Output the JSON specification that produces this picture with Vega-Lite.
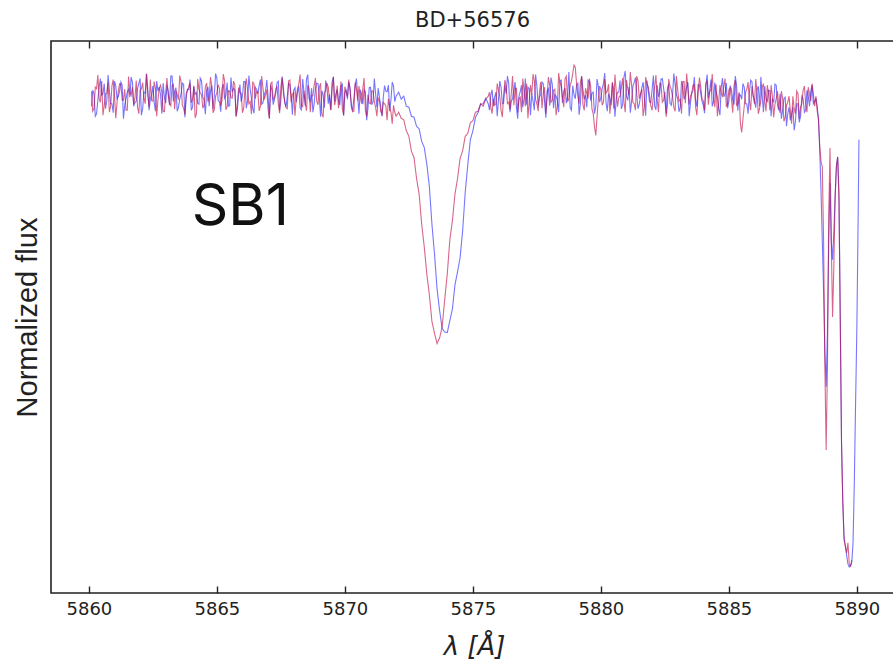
{
"$schema": "https://vega.github.io/schema/vega-lite/v6.json",
"autosize": "none",
"padding": {"left": 51, "top": 41, "right": 0, "bottom": 71},
"width": 843,
"height": 552,
"background": "white",
"title": {"text": "BD+56576", "font": "DejaVu Sans", "fontSize": 21, "fontWeight": "normal", "color": "#222", "anchor": "middle", "frame": "group", "baseline": "alphabetic", "offset": 13, "dy": 21},
"config": {"view": {"stroke": "#222", "strokeWidth": 1.6}},
"datasets": {
"spec": [
{"w":5860.1,"b":0.970,"r":1.000},{"w":5860.2,"b":0.995,"r":0.965},{"w":5860.3,"b":0.955,"r":1.005},{"w":5860.4,"b":1.008,"r":0.985},{"w":5860.5,"b":0.992,"r":1.020},
{"w":5860.6,"b":1.015,"r":0.972},{"w":5860.7,"b":0.982,"r":0.996},{"w":5860.8,"b":1.002,"r":0.958},{"w":5860.9,"b":0.975,"r":1.010},{"w":5861.0,"b":1.020,"r":0.992},
{"w":5861.1,"b":0.985,"r":0.978},{"w":5861.2,"b":1.000,"r":1.015},{"w":5861.3,"b":1.012,"r":0.982},{"w":5861.4,"b":0.972,"r":1.004},{"w":5861.5,"b":0.998,"r":0.962},
{"w":5861.6,"b":0.988,"r":0.999},{"w":5861.7,"b":1.018,"r":1.008},{"w":5861.8,"b":0.978,"r":0.987},{"w":5861.9,"b":1.005,"r":0.968},{"w":5862.0,"b":1.025,"r":1.002},
{"w":5862.1,"b":0.965,"r":1.017},{"w":5862.2,"b":0.996,"r":0.975},{"w":5862.3,"b":1.004,"r":0.994},{"w":5862.4,"b":0.984,"r":1.023},{"w":5862.5,"b":1.010,"r":0.980},
{"w":5862.6,"b":0.960,"r":1.006},{"w":5862.7,"b":1.000,"r":0.984},{"w":5862.8,"b":0.993,"r":1.012},{"w":5862.9,"b":1.016,"r":0.960},{"w":5863.0,"b":0.976,"r":0.998},
{"w":5863.1,"b":0.999,"r":0.991},{"w":5863.2,"b":1.030,"r":0.971},{"w":5863.3,"b":0.980,"r":1.014},{"w":5863.4,"b":1.007,"r":1.001},{"w":5863.5,"b":0.968,"r":0.983},
{"w":5863.6,"b":0.994,"r":1.019},{"w":5863.7,"b":1.014,"r":0.966},{"w":5863.8,"b":0.987,"r":0.995},{"w":5863.9,"b":1.003,"r":1.007},{"w":5864.0,"b":0.962,"r":0.977},
{"w":5864.1,"b":1.009,"r":1.011},{"w":5864.2,"b":0.997,"r":0.954},{"w":5864.3,"b":0.974,"r":1.003},{"w":5864.4,"b":1.021,"r":0.993},{"w":5864.5,"b":0.983,"r":0.973},
{"w":5864.6,"b":1.001,"r":1.016},{"w":5864.7,"b":0.970,"r":0.988},{"w":5864.8,"b":1.011,"r":1.009},{"w":5864.9,"b":0.992,"r":0.963},{"w":5865.0,"b":1.026,"r":0.997},
{"w":5865.1,"b":0.979,"r":1.005},{"w":5865.2,"b":1.006,"r":0.981},{"w":5865.3,"b":0.986,"r":1.021},{"w":5865.4,"b":1.017,"r":0.969},{"w":5865.5,"b":0.971,"r":1.000},
{"w":5865.6,"b":0.998,"r":0.986},{"w":5865.7,"b":1.002,"r":1.013},{"w":5865.8,"b":0.964,"r":0.976},{"w":5865.9,"b":1.013,"r":0.996},{"w":5866.0,"b":0.991,"r":0.957},
{"w":5866.1,"b":1.019,"r":1.008},{"w":5866.2,"b":0.981,"r":1.002},{"w":5866.3,"b":1.004,"r":0.979},{"w":5866.4,"b":0.966,"r":1.018},{"w":5866.5,"b":1.008,"r":0.985},
{"w":5866.6,"b":0.995,"r":0.999},{"w":5866.7,"b":1.023,"r":0.970},{"w":5866.8,"b":0.977,"r":1.006},{"w":5866.9,"b":1.000,"r":0.992},{"w":5867.0,"b":0.989,"r":0.964},
{"w":5867.1,"b":1.012,"r":1.015},{"w":5867.2,"b":0.973,"r":0.982},{"w":5867.3,"b":0.996,"r":1.003},{"w":5867.4,"b":1.020,"r":0.974},{"w":5867.5,"b":0.982,"r":1.010},
{"w":5867.6,"b":1.005,"r":0.994},{"w":5867.7,"b":0.969,"r":0.967},{"w":5867.8,"b":1.015,"r":1.020},{"w":5867.9,"b":0.993,"r":0.978},{"w":5868.0,"b":1.002,"r":0.997},
{"w":5868.1,"b":0.978,"r":0.987},{"w":5868.2,"b":1.010,"r":1.014},{"w":5868.3,"b":0.963,"r":0.971},{"w":5868.4,"b":0.999,"r":1.001},{"w":5868.5,"b":1.024,"r":0.961},
{"w":5868.6,"b":0.985,"r":1.005},{"w":5868.7,"b":1.006,"r":0.991},{"w":5868.8,"b":0.975,"r":1.012},{"w":5868.9,"b":1.016,"r":0.980},{"w":5869.0,"b":0.990,"r":1.007},
{"w":5869.1,"b":1.001,"r":0.955},{"w":5869.2,"b":0.967,"r":0.998},{"w":5869.3,"b":1.009,"r":1.016},{"w":5869.4,"b":0.994,"r":0.984},{"w":5869.5,"b":1.018,"r":1.004},
{"w":5869.6,"b":0.980,"r":0.972},{"w":5869.7,"b":1.003,"r":1.011},{"w":5869.8,"b":0.972,"r":0.993},{"w":5869.9,"b":1.014,"r":0.965},{"w":5870.0,"b":0.997,"r":1.009},
{"w":5870.1,"b":0.984,"r":0.989},{"w":5870.2,"b":1.007,"r":1.002},{"w":5870.3,"b":0.961,"r":0.959},{"w":5870.4,"b":1.011,"r":1.017},{"w":5870.5,"b":0.992,"r":0.981},
{"w":5870.6,"b":1.003,"r":0.990},{"w":5870.7,"b":0.974,"r":1.005},{"w":5870.8,"b":0.999,"r":0.962},{"w":5870.9,"b":0.965,"r":0.993},{"w":5871.0,"b":1.008,"r":0.975},
{"w":5871.1,"b":0.979,"r":1.000},{"w":5871.2,"b":0.995,"r":0.968},{"w":5871.3,"b":1.006,"r":0.986},{"w":5871.4,"b":0.970,"r":0.960},{"w":5871.5,"b":0.988,"r":0.978},
{"w":5871.6,"b":1.000,"r":0.970},{"w":5871.7,"b":1.012,"r":0.985},{"w":5871.8,"b":0.983,"r":0.958},{"w":5871.9,"b":1.010,"r":0.972},{"w":5872.0,"b":0.990,"r":0.950},
{"w":5872.1,"b":0.998,"r":0.958},{"w":5872.2,"b":0.984,"r":0.946},{"w":5872.3,"b":0.990,"r":0.943},{"w":5872.4,"b":0.970,"r":0.921},{"w":5872.5,"b":0.968,"r":0.910},
{"w":5872.6,"b":0.950,"r":0.880},{"w":5872.7,"b":0.948,"r":0.868},{"w":5872.8,"b":0.930,"r":0.826},{"w":5872.9,"b":0.925,"r":0.795},{"w":5873.0,"b":0.900,"r":0.735},
{"w":5873.1,"b":0.888,"r":0.690},{"w":5873.2,"b":0.855,"r":0.636},{"w":5873.3,"b":0.810,"r":0.594},{"w":5873.4,"b":0.735,"r":0.541},{"w":5873.5,"b":0.676,"r":0.518},
{"w":5873.6,"b":0.606,"r":0.497},{"w":5873.7,"b":0.563,"r":0.508},{"w":5873.8,"b":0.527,"r":0.531},{"w":5873.9,"b":0.520,"r":0.585},{"w":5874.0,"b":0.519,"r":0.636},
{"w":5874.1,"b":0.543,"r":0.704},{"w":5874.2,"b":0.566,"r":0.742},{"w":5874.3,"b":0.614,"r":0.795},{"w":5874.4,"b":0.640,"r":0.826},{"w":5874.5,"b":0.668,"r":0.866},
{"w":5874.6,"b":0.722,"r":0.881},{"w":5874.7,"b":0.798,"r":0.910},{"w":5874.8,"b":0.853,"r":0.916},{"w":5874.9,"b":0.903,"r":0.937},{"w":5875.0,"b":0.921,"r":0.941},
{"w":5875.1,"b":0.948,"r":0.958},{"w":5875.2,"b":0.957,"r":0.960},{"w":5875.3,"b":0.974,"r":0.975},{"w":5875.4,"b":0.975,"r":0.970},{"w":5875.5,"b":0.986,"r":0.984},
{"w":5875.6,"b":0.975,"r":0.990},{"w":5875.7,"b":0.992,"r":0.968},{"w":5875.8,"b":0.970,"r":0.985},{"w":5875.9,"b":0.998,"r":0.975},{"w":5876.0,"b":0.983,"r":1.002},
{"w":5876.1,"b":1.008,"r":0.962},{"w":5876.2,"b":0.976,"r":0.990},{"w":5876.3,"b":0.995,"r":1.010},{"w":5876.4,"b":1.015,"r":0.978},{"w":5876.5,"b":0.980,"r":0.996},
{"w":5876.6,"b":1.002,"r":0.972},{"w":5876.7,"b":0.968,"r":1.006},{"w":5876.8,"b":0.990,"r":0.985},{"w":5876.9,"b":1.012,"r":0.958},{"w":5877.0,"b":0.986,"r":1.000},
{"w":5877.1,"b":0.973,"r":1.015},{"w":5877.2,"b":1.005,"r":0.980},{"w":5877.3,"b":0.995,"r":0.993},{"w":5877.4,"b":0.962,"r":1.021},{"w":5877.5,"b":1.010,"r":0.975},
{"w":5877.6,"b":0.988,"r":0.998},{"w":5877.7,"b":1.018,"r":0.966},{"w":5877.8,"b":0.979,"r":1.008},{"w":5877.9,"b":1.000,"r":0.990},{"w":5878.0,"b":0.971,"r":1.012},
{"w":5878.1,"b":1.014,"r":0.982},{"w":5878.2,"b":0.993,"r":1.004},{"w":5878.3,"b":0.982,"r":0.970},{"w":5878.4,"b":1.020,"r":1.018},{"w":5878.5,"b":0.977,"r":0.987},
{"w":5878.6,"b":1.006,"r":1.025},{"w":5878.7,"b":0.990,"r":0.979},{"w":5878.8,"b":0.967,"r":1.012},{"w":5878.9,"b":1.011,"r":1.035},{"w":5879.0,"b":0.985,"r":1.048},
{"w":5879.1,"b":1.016,"r":0.992},{"w":5879.2,"b":0.975,"r":1.018},{"w":5879.3,"b":1.003,"r":0.973},{"w":5879.4,"b":0.992,"r":1.006},{"w":5879.5,"b":1.022,"r":0.985},
{"w":5879.6,"b":0.981,"r":1.010},{"w":5879.7,"b":0.998,"r":0.955},{"w":5879.8,"b":0.969,"r":0.912},{"w":5879.9,"b":1.009,"r":0.985},{"w":5880.0,"b":0.987,"r":1.003},
{"w":5880.1,"b":1.015,"r":0.978},{"w":5880.2,"b":0.978,"r":0.996},{"w":5880.3,"b":0.995,"r":1.014},{"w":5880.4,"b":0.972,"r":0.983},{"w":5880.5,"b":1.004,"r":0.965},
{"w":5880.6,"b":0.985,"r":1.000},{"w":5880.7,"b":0.998,"r":0.988},{"w":5880.8,"b":0.965,"r":1.007},{"w":5880.9,"b":1.028,"r":0.980},{"w":5881.0,"b":0.990,"r":1.022},
{"w":5881.1,"b":1.008,"r":0.993},{"w":5881.2,"b":0.980,"r":1.011},{"w":5881.3,"b":1.017,"r":0.975},{"w":5881.4,"b":0.994,"r":1.030},{"w":5881.5,"b":0.974,"r":0.985},
{"w":5881.6,"b":1.006,"r":1.004},{"w":5881.7,"b":0.988,"r":0.970},{"w":5881.8,"b":1.021,"r":1.013},{"w":5881.9,"b":0.979,"r":0.991},{"w":5882.0,"b":1.002,"r":0.962},
{"w":5882.1,"b":0.970,"r":1.008},{"w":5882.2,"b":1.012,"r":0.984},{"w":5882.3,"b":0.996,"r":1.016},{"w":5882.4,"b":1.025,"r":0.978},{"w":5882.5,"b":0.983,"r":0.999},
{"w":5882.6,"b":1.005,"r":0.972},{"w":5882.7,"b":0.976,"r":1.010},{"w":5882.8,"b":0.993,"r":0.989},{"w":5882.9,"b":1.014,"r":0.960},{"w":5883.0,"b":0.985,"r":1.003},
{"w":5883.1,"b":0.968,"r":0.983},{"w":5883.2,"b":1.009,"r":1.019},{"w":5883.3,"b":0.991,"r":0.976},{"w":5883.4,"b":1.018,"r":1.005},{"w":5883.5,"b":0.977,"r":0.990},
{"w":5883.6,"b":1.001,"r":1.012},{"w":5883.7,"b":0.982,"r":0.968},{"w":5883.8,"b":1.013,"r":0.997},{"w":5883.9,"b":0.995,"r":1.009},{"w":5884.0,"b":0.972,"r":0.981},
{"w":5884.1,"b":1.010,"r":1.016},{"w":5884.2,"b":0.987,"r":0.973},{"w":5884.3,"b":1.023,"r":1.002},{"w":5884.4,"b":0.979,"r":0.988},{"w":5884.5,"b":0.999,"r":1.014},
{"w":5884.6,"b":0.966,"r":0.977},{"w":5884.7,"b":1.007,"r":0.995},{"w":5884.8,"b":0.989,"r":1.010},{"w":5884.9,"b":1.016,"r":0.969},{"w":5885.0,"b":0.980,"r":1.003},
{"w":5885.1,"b":1.003,"r":0.985},{"w":5885.2,"b":0.973,"r":1.011},{"w":5885.3,"b":1.012,"r":0.972},{"w":5885.4,"b":0.994,"r":0.998},{"w":5885.5,"b":0.984,"r":0.918},
{"w":5885.6,"b":1.008,"r":0.970},{"w":5885.7,"b":0.975,"r":1.004},{"w":5885.8,"b":0.996,"r":0.982},{"w":5885.9,"b":1.019,"r":1.010},{"w":5886.0,"b":0.981,"r":0.975},
{"w":5886.1,"b":1.004,"r":0.996},{"w":5886.2,"b":0.970,"r":0.966},{"w":5886.3,"b":0.992,"r":1.008},{"w":5886.4,"b":1.010,"r":0.980},{"w":5886.5,"b":0.978,"r":1.012},
{"w":5886.6,"b":1.001,"r":0.962},{"w":5886.7,"b":0.985,"r":0.990},{"w":5886.8,"b":1.014,"r":0.974},{"w":5886.9,"b":0.972,"r":1.000},{"w":5887.0,"b":0.995,"r":0.957},
{"w":5887.1,"b":0.962,"r":0.985},{"w":5887.2,"b":0.988,"r":0.948},{"w":5887.3,"b":0.955,"r":0.978},{"w":5887.4,"b":0.942,"r":0.962},{"w":5887.5,"b":0.968,"r":0.990},
{"w":5887.6,"b":0.940,"r":0.955},{"w":5887.7,"b":0.975,"r":0.995},{"w":5887.8,"b":0.950,"r":0.968},{"w":5887.9,"b":0.985,"r":1.002},{"w":5888.0,"b":0.962,"r":0.975},
{"w":5888.1,"b":0.990,"r":1.008},{"w":5888.2,"b":1.000,"r":0.980},{"w":5888.3,"b":0.975,"r":0.995},{"w":5888.4,"b":0.985,"r":0.990},
{"w":5888.45,"b":0.970,"r":0.960},{"w":5888.5,"b":0.943,"r":0.945},{"w":5888.55,"b":0.880,"r":0.890},{"w":5888.6,"b":0.800,"r":0.860},{"w":5888.65,"b":0.700,"r":0.849},
{"w":5888.7,"b":0.600,"r":0.700},{"w":5888.75,"b":0.480,"r":0.450},{"w":5888.8,"b":0.411,"r":0.285},{"w":5888.85,"b":0.520,"r":0.450},{"w":5888.9,"b":0.700,"r":0.750},
{"w":5888.95,"b":0.817,"r":0.887},{"w":5889.0,"b":0.700,"r":0.700},{"w":5889.05,"b":0.664,"r":0.550},{"w":5889.1,"b":0.720,"r":0.650},{"w":5889.15,"b":0.789,"r":0.790},
{"w":5889.2,"b":0.850,"r":0.850},{"w":5889.25,"b":0.869,"r":0.869},{"w":5889.3,"b":0.800,"r":0.780},{"w":5889.35,"b":0.550,"r":0.550},{"w":5889.4,"b":0.299,"r":0.300},
{"w":5889.45,"b":0.180,"r":0.180},{"w":5889.5,"b":0.110,"r":0.105},{"w":5889.55,"b":0.095,"r":0.092},{"w":5889.6,"b":0.075,"r":0.080},{"w":5889.65,"b":0.058,"r":0.100},
{"w":5889.7,"b":0.052,"r":0.060},{"w":5889.75,"b":0.055,"r":0.052},{"w":5889.8,"b":0.060,"r":0.066},{"w":5889.85,"b":0.100},{"w":5889.9,"b":0.220},
{"w":5889.95,"b":0.380},{"w":5890.0,"b":0.530},{"w":5890.05,"b":0.750},{"w":5890.08,"b":0.903},
{"w":5860.15,"b":1.002,"r":0.960},{"w":5860.25,"b":0.950,"r":1.008},{"w":5860.35,"b":0.982,"r":1.032},{"w":5860.45,"b":1.025,"r":0.978},{"w":5860.55,"b":0.995,"r":0.952},
{"w":5860.65,"b":0.965,"r":0.995},{"w":5860.75,"b":1.032,"r":1.017},{"w":5860.85,"b":0.975,"r":0.970},{"w":5860.95,"b":0.957,"r":1.023},{"w":5861.05,"b":1.010,"r":0.946},
{"w":5861.15,"b":0.990,"r":1.000},{"w":5861.25,"b":1.018,"r":1.014},{"w":5861.35,"b":0.945,"r":0.982},{"w":5861.45,"b":0.985,"r":0.962},{"w":5861.55,"b":1.005,"r":1.029},
{"w":5861.65,"b":1.028,"r":0.992},{"w":5861.75,"b":0.970,"r":0.974},{"w":5861.85,"b":0.980,"r":1.021},{"w":5861.95,"b":1.015,"r":0.955},{"w":5862.05,"b":0.952,"r":1.004},
{"w":5862.15,"b":0.998,"r":0.986},{"w":5862.25,"b":1.034,"r":1.035},{"w":5862.35,"b":0.962,"r":0.968},{"w":5862.45,"b":0.992,"r":0.981},{"w":5862.55,"b":0.978,"r":1.019},
{"w":5862.65,"b":1.020,"r":0.950},{"w":5862.75,"b":1.008,"r":1.006},{"w":5862.85,"b":0.955,"r":0.998},{"w":5862.95,"b":0.987,"r":0.959},{"w":5863.05,"b":1.012,"r":1.026},
{"w":5863.15,"b":0.972,"r":0.976},{"w":5863.25,"b":1.030,"r":1.011},{"w":5863.35,"b":1.000,"r":0.964},{"w":5863.45,"b":0.960,"r":0.993},{"w":5863.55,"b":0.984,"r":1.031},
{"w":5863.65,"b":1.016,"r":0.972},{"w":5863.75,"b":0.948,"r":0.953},{"w":5863.85,"b":1.004,"r":1.002},{"w":5863.95,"b":1.023,"r":1.016},{"w":5864.05,"b":0.968,"r":0.984},
{"w":5864.15,"b":0.994,"r":0.947},{"w":5864.25,"b":0.976,"r":1.024},{"w":5864.35,"b":1.026,"r":0.997},{"w":5864.45,"b":0.988,"r":0.966},{"w":5864.55,"b":0.954,"r":1.009},
{"w":5864.65,"b":1.009,"r":0.979},{"w":5864.75,"b":0.999,"r":1.028},{"w":5864.85,"b":0.964,"r":0.957},{"w":5864.95,"b":1.035,"r":0.990},{"w":5865.05,"b":0.981,"r":1.013},
{"w":5865.15,"b":0.959,"r":0.971},{"w":5865.25,"b":1.014,"r":1.034},{"w":5865.35,"b":0.991,"r":0.963},{"w":5865.45,"b":0.970,"r":1.001},{"w":5865.55,"b":1.027,"r":0.987},
{"w":5865.65,"b":1.006,"r":1.020},{"w":5865.75,"b":0.950,"r":0.949},{"w":5865.85,"b":0.996,"r":1.007},{"w":5865.95,"b":0.979,"r":0.996},{"w":5866.05,"b":1.019,"r":0.967},
{"w":5866.15,"b":0.966,"r":1.025},{"w":5866.25,"b":1.031,"r":0.975},{"w":5866.35,"b":0.986,"r":0.954},{"w":5866.45,"b":0.956,"r":1.015},{"w":5866.55,"b":1.003,"r":0.999},
{"w":5866.65,"b":1.011,"r":0.961},{"w":5866.75,"b":0.974,"r":1.030},{"w":5866.85,"b":0.993,"r":0.983},{"w":5866.95,"b":1.022,"r":1.003},{"w":5867.05,"b":0.946,"r":0.945},
{"w":5867.15,"b":1.001,"r":1.018},{"w":5867.25,"b":0.983,"r":0.988},{"w":5867.35,"b":1.017,"r":1.010},{"w":5867.45,"b":0.961,"r":0.956},{"w":5867.55,"b":1.029,"r":1.027},
{"w":5867.65,"b":0.977,"r":0.980},{"w":5867.75,"b":0.989,"r":0.965},{"w":5867.85,"b":1.013,"r":1.022},{"w":5867.95,"b":0.953,"r":0.994},{"w":5868.05,"b":1.007,"r":0.951},
{"w":5868.15,"b":0.997,"r":1.005},{"w":5868.25,"b":0.967,"r":1.033},{"w":5868.35,"b":1.024,"r":0.969},{"w":5868.45,"b":0.971,"r":0.977},{"w":5868.55,"b":1.033,"r":1.012},
{"w":5868.65,"b":0.980,"r":0.958},{"w":5868.75,"b":0.958,"r":0.991},{"w":5868.85,"b":1.005,"r":1.026},{"w":5868.95,"b":1.015,"r":0.973},{"w":5869.05,"b":0.949,"r":1.016},
{"w":5869.15,"b":0.992,"r":0.948},{"w":5869.25,"b":1.021,"r":1.000},{"w":5869.35,"b":0.975,"r":1.008},{"w":5869.45,"b":0.963,"r":0.962},{"w":5869.55,"b":1.028,"r":1.029},
{"w":5869.65,"b":0.995,"r":0.985},{"w":5869.75,"b":0.982,"r":0.966},{"w":5869.85,"b":1.010,"r":1.019},{"w":5869.95,"b":0.951,"r":0.952},{"w":5870.05,"b":1.002,"r":0.998},
{"w":5870.15,"b":1.018,"r":1.023},{"w":5870.25,"b":0.969,"r":0.976},{"w":5870.35,"b":0.985,"r":0.960},{"w":5870.45,"b":1.025,"r":1.004},{"w":5870.55,"b":0.955,"r":1.010},
{"w":5870.65,"b":0.994,"r":0.975},{"w":5870.75,"b":1.003,"r":1.026},{"w":5870.85,"b":0.942,"r":0.950},{"w":5870.95,"b":1.007,"r":0.976},{"w":5871.05,"b":0.973,"r":1.001},
{"w":5871.15,"b":1.025,"r":0.979},{"w":5871.25,"b":0.968,"r":0.950},{"w":5871.35,"b":0.988,"r":0.981},{"w":5871.45,"b":0.950,"r":0.954},{"w":5871.55,"b":1.011,"r":0.975},
{"w":5871.65,"b":0.999,"r":0.942},{"w":5871.75,"b":0.960,"r":0.968},{"w":5871.85,"b":1.018,"r":0.935},{"w":5871.95,"b":0.979,"r":0.958},
{"w":5875.65,"b":0.962,"r":0.998},{"w":5875.75,"b":1.003,"r":0.955},{"w":5875.85,"b":0.988,"r":0.972},{"w":5875.95,"b":0.950,"r":1.015},{"w":5876.05,"b":1.020,"r":0.990},
{"w":5876.15,"b":0.975,"r":0.948},{"w":5876.25,"b":1.012,"r":1.022},{"w":5876.35,"b":1.030,"r":0.975},{"w":5876.45,"b":0.958,"r":0.963},{"w":5876.55,"b":0.985,"r":1.030},
{"w":5876.65,"b":1.018,"r":1.005},{"w":5876.75,"b":0.945,"r":0.958},{"w":5876.85,"b":0.999,"r":0.988},{"w":5876.95,"b":0.968,"r":1.025},{"w":5877.05,"b":1.025,"r":0.970},
{"w":5877.15,"b":1.008,"r":0.946},{"w":5877.25,"b":0.952,"r":1.012},{"w":5877.35,"b":0.980,"r":1.034},{"w":5877.45,"b":1.033,"r":0.983},{"w":5877.55,"b":0.971,"r":0.960},
{"w":5877.65,"b":0.994,"r":1.018},{"w":5877.75,"b":1.015,"r":0.996},{"w":5877.85,"b":0.947,"r":0.955},{"w":5877.95,"b":1.005,"r":1.028},{"w":5878.05,"b":1.027,"r":0.978},
{"w":5878.15,"b":0.966,"r":1.002},{"w":5878.25,"b":0.990,"r":0.952},{"w":5878.35,"b":0.958,"r":1.036},{"w":5878.45,"b":1.022,"r":1.010},{"w":5878.55,"b":1.000,"r":0.968},
{"w":5878.65,"b":0.976,"r":1.030},{"w":5878.75,"b":1.038,"r":0.985},{"w":5878.85,"b":0.962,"r":1.020},{"w":5878.95,"b":0.993,"r":1.052},{"w":5879.05,"b":1.012,"r":1.015},
{"w":5879.15,"b":0.953,"r":0.975},{"w":5879.25,"b":1.029,"r":1.030},{"w":5879.35,"b":0.984,"r":0.962},{"w":5879.45,"b":0.968,"r":0.995},{"w":5879.55,"b":1.019,"r":1.025},
{"w":5879.65,"b":0.996,"r":0.965},{"w":5879.75,"b":0.955,"r":0.930},{"w":5879.85,"b":1.024,"r":0.948},{"w":5879.95,"b":0.978,"r":1.010},{"w":5880.05,"b":1.005,"r":0.972},
{"w":5880.15,"b":1.036,"r":1.024},{"w":5880.25,"b":0.960,"r":1.000},{"w":5880.35,"b":0.987,"r":0.955},{"w":5880.45,"b":1.016,"r":1.018},{"w":5880.55,"b":0.949,"r":1.033},
{"w":5880.65,"b":0.998,"r":0.969},{"w":5880.75,"b":1.021,"r":0.990},{"w":5880.85,"b":0.973,"r":1.026},{"w":5880.95,"b":1.040,"r":0.958},{"w":5881.05,"b":0.982,"r":1.005},
{"w":5881.15,"b":0.957,"r":1.038},{"w":5881.25,"b":1.010,"r":0.978},{"w":5881.35,"b":1.027,"r":0.962},{"w":5881.45,"b":0.965,"r":1.021},{"w":5881.55,"b":0.991,"r":0.995},
{"w":5881.65,"b":1.018,"r":0.950},{"w":5881.75,"b":0.951,"r":1.028},{"w":5881.85,"b":1.002,"r":1.009},{"w":5881.95,"b":0.977,"r":0.971},{"w":5882.05,"b":1.031,"r":0.990},
{"w":5882.15,"b":0.963,"r":1.032},{"w":5882.25,"b":0.989,"r":0.958},{"w":5882.35,"b":1.024,"r":1.015},{"w":5882.45,"b":1.006,"r":0.982},{"w":5882.55,"b":0.955,"r":0.949},
{"w":5882.65,"b":1.014,"r":1.024},{"w":5882.75,"b":0.972,"r":1.003},{"w":5882.85,"b":1.035,"r":0.967},{"w":5882.95,"b":0.993,"r":1.030},{"w":5883.05,"b":0.959,"r":0.980},
{"w":5883.15,"b":1.020,"r":0.955},{"w":5883.25,"b":0.984,"r":1.019},{"w":5883.35,"b":1.008,"r":1.035},{"w":5883.45,"b":0.950,"r":0.973},{"w":5883.55,"b":0.997,"r":0.996},
{"w":5883.65,"b":1.028,"r":1.012},{"w":5883.75,"b":0.969,"r":0.952},{"w":5883.85,"b":1.012,"r":1.027},{"w":5883.95,"b":0.980,"r":0.985},{"w":5884.05,"b":0.956,"r":0.962},
{"w":5884.15,"b":1.033,"r":1.020},{"w":5884.25,"b":1.001,"r":0.999},{"w":5884.35,"b":0.970,"r":1.034},{"w":5884.45,"b":1.017,"r":0.968},{"w":5884.55,"b":0.988,"r":0.950},
{"w":5884.65,"b":0.952,"r":1.012},{"w":5884.75,"b":1.026,"r":0.990},{"w":5884.85,"b":0.995,"r":1.025},{"w":5884.95,"b":0.966,"r":0.975},{"w":5885.05,"b":1.011,"r":1.006},
{"w":5885.15,"b":0.983,"r":0.957},{"w":5885.25,"b":1.030,"r":1.022},{"w":5885.35,"b":0.961,"r":0.975},{"w":5885.45,"b":0.992,"r":0.935},{"w":5885.55,"b":1.015,"r":0.945},
{"w":5885.65,"b":0.975,"r":0.998},{"w":5885.75,"b":0.955,"r":1.018},{"w":5885.85,"b":1.022,"r":0.962},{"w":5885.95,"b":0.990,"r":0.990},{"w":5886.05,"b":0.967,"r":1.024},
{"w":5886.15,"b":1.010,"r":0.955},{"w":5886.25,"b":1.028,"r":0.982},{"w":5886.35,"b":0.958,"r":1.015},{"w":5886.45,"b":0.985,"r":0.960},{"w":5886.55,"b":1.002,"r":0.995},
{"w":5886.65,"b":0.950,"r":1.012},{"w":5886.75,"b":0.978,"r":0.948},{"w":5886.85,"b":1.012,"r":0.985},{"w":5886.95,"b":0.962,"r":0.968},{"w":5887.05,"b":0.945,"r":1.000},
{"w":5887.15,"b":0.985,"r":0.940},{"w":5887.25,"b":0.930,"r":0.972},{"w":5887.35,"b":0.968,"r":0.990},{"w":5887.45,"b":0.955,"r":0.935},{"w":5887.55,"b":0.922,"r":0.965},
{"w":5887.65,"b":0.975,"r":1.000},{"w":5887.75,"b":0.938,"r":0.945},{"w":5887.85,"b":0.990,"r":0.975},{"w":5887.95,"b":0.958,"r":1.010},{"w":5888.05,"b":1.002,"r":0.958},
{"w":5888.15,"b":0.970,"r":0.995},{"w":5888.25,"b":1.012,"r":1.015},{"w":5888.35,"b":0.980,"r":0.970}
],
"annot": [{"w": 5864.02, "f": 0.733, "label": "SB1"}]
},
"layer": [
{
"data": {"name": "spec"},
"mark": {"type": "line", "color": "#1a1aff", "opacity": 0.6, "strokeWidth": 1.1, "clip": true},
"encoding": {
"x": {"field": "w", "type": "quantitative", "scale": {"domain": [5858.52, 5891.45], "nice": false, "zero": false},
"axis": {"orient": "bottom", "values": [5860, 5865, 5870, 5875, 5880, 5885, 5890], "grid": false, "domain": false, "ticks": true, "tickSize": -7, "tickWidth": 1.4, "tickColor": "#222", "labelFont": "DejaVu Sans", "labelFontSize": 18, "labelColor": "#222", "labelPadding": 14, "labelFlush": false, "labelOverlap": false, "format": "d", "title": "λ [Å]", "titleFont": "DejaVu Sans", "titleFontStyle": "italic", "titleFontWeight": "normal", "titleFontSize": 26, "titleColor": "#222", "titleX": 423, "titleY": 61, "titleBaseline": "alphabetic", "titleAlign": "center"}},
"y": {"field": "b", "type": "quantitative", "scale": {"domain": [0, 1.1], "nice": false, "zero": false},
"axis": {"orient": "left", "grid": false, "domain": false, "ticks": false, "labels": false, "title": "Normalized flux", "titleFont": "Liberation Sans", "titleFontWeight": "normal", "titleFontSize": 29, "titleColor": "#222", "titleX": -15, "titleY": 276, "titleBaseline": "alphabetic", "titleAlign": "center", "titleAngle": -90}}
}
},
{
"data": {"name": "spec"},
"mark": {"type": "line", "color": "#c0003a", "opacity": 0.6, "strokeWidth": 1.1, "clip": true},
"encoding": {
"x": {"field": "w", "type": "quantitative", "scale": {"domain": [5858.52, 5891.45], "nice": false, "zero": false},
"axis": {"orient": "top", "values": [5860, 5865, 5870, 5875, 5880, 5885, 5890], "grid": false, "domain": false, "ticks": true, "tickSize": -7, "tickWidth": 1.4, "tickColor": "#222", "labels": false, "title": null}},
"y": {"field": "r", "type": "quantitative", "scale": {"domain": [0, 1.1], "nice": false, "zero": false}, "axis": null}
}
},
{
"data": {"name": "annot"},
"mark": {"type": "text", "font": "Inter", "fontSize": 57, "align": "left", "baseline": "alphabetic", "color": "#111"},
"encoding": {
"x": {"field": "w", "type": "quantitative", "axis": null},
"y": {"field": "f", "type": "quantitative", "axis": null},
"text": {"field": "label"}
}
}
],
"resolve": {"axis": {"x": "independent", "y": "independent"}}
}
